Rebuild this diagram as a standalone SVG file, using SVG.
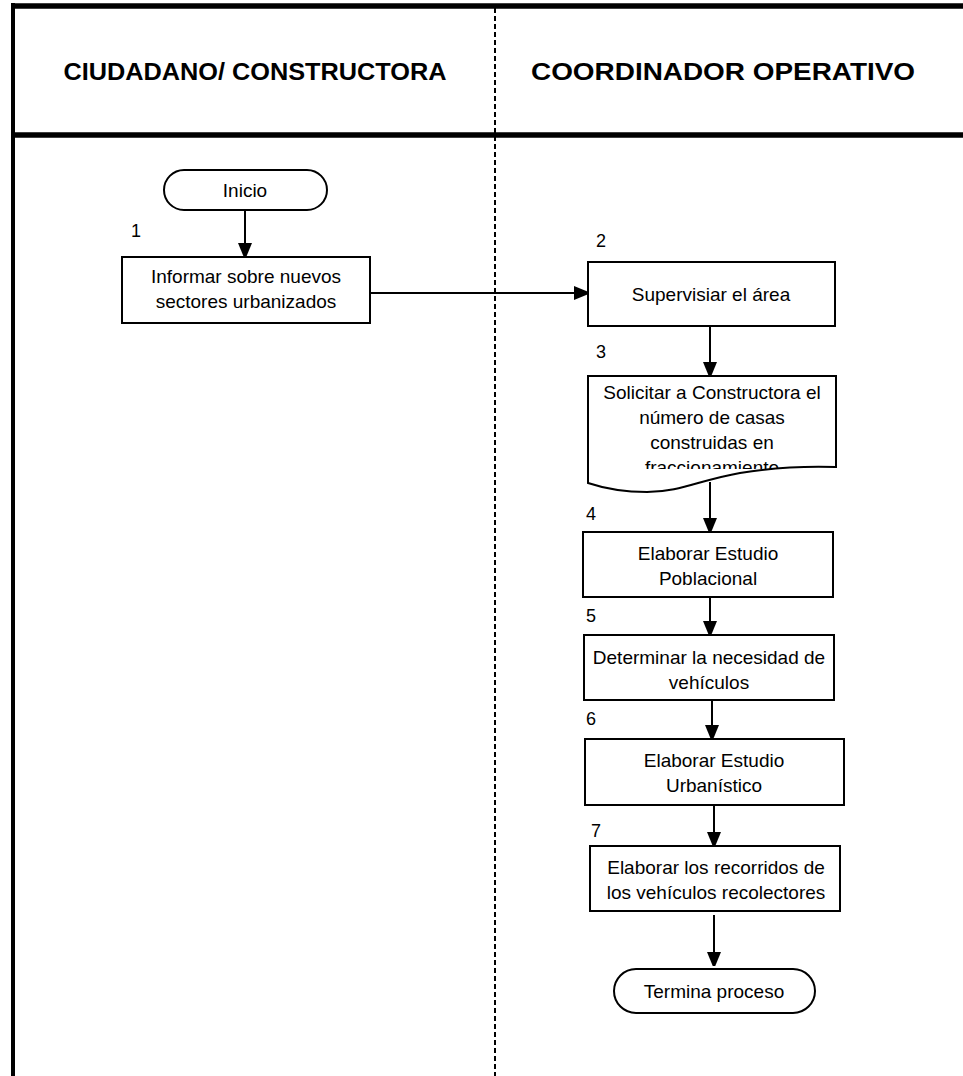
<svg xmlns="http://www.w3.org/2000/svg" width="963" height="1076" viewBox="0 0 963 1076">
  <style>
    .frame { stroke: #000; fill: none; }
    .box { fill: #fff; stroke: #000; stroke-width: 2; }
    .t { font-family: "Liberation Sans", Arial, sans-serif; font-size: 19px; fill: #000; text-anchor: middle; }
    .num { font-family: "Liberation Sans", Arial, sans-serif; font-size: 18px; fill: #000; }
    .hdr { font-family: "Liberation Sans", Arial, sans-serif; font-size: 24px; font-weight: bold; fill: #000; text-anchor: middle; }
    .conn { stroke: #000; stroke-width: 2; fill: none; marker-end: url(#arrow); }
  </style>
  <defs>
    <marker id="arrow" viewBox="0 0 14 17" refX="14" refY="7" markerWidth="14" markerHeight="17" markerUnits="userSpaceOnUse" orient="auto">
      <path d="M0,0 L17,7 L0,14 Z" fill="#000"/>
    </marker>
    <clipPath id="docClip">
      <rect x="588" y="376" width="248" height="93"/>
    </clipPath>
  </defs>
  <rect width="963" height="1076" fill="#fff"/>

  <!-- swimlane frame -->
  <g id="frame">
    <line class="frame" x1="13" y1="3" x2="13" y2="1076" stroke-width="4"/>
    <line class="frame" x1="11" y1="6" x2="963" y2="6" stroke-width="5.5"/>
    <line class="frame" x1="11" y1="135" x2="963" y2="135" stroke-width="5.5"/>
    <line class="frame" x1="495" y1="8" x2="495" y2="1076" stroke-width="2" stroke-dasharray="5,3"/>
    <text class="hdr" x="255" y="80" textLength="383" lengthAdjust="spacingAndGlyphs">CIUDADANO/ CONSTRUCTORA</text>
    <text class="hdr" x="723" y="80" textLength="384" lengthAdjust="spacingAndGlyphs">COORDINADOR OPERATIVO</text>
  </g>

  <!-- connectors -->
  <g id="connectors">
    <line class="conn" x1="245" y1="210" x2="245" y2="257"/>
    <line class="conn" x1="370" y1="293" x2="588" y2="293"/>
    <line class="conn" x1="710" y1="326" x2="710" y2="376"/>
    <line class="conn" x1="710" y1="482" x2="710" y2="532"/>
    <line class="conn" x1="710" y1="597" x2="710" y2="635"/>
    <line class="conn" x1="712" y1="700" x2="712" y2="739"/>
    <line class="conn" x1="714" y1="805" x2="714" y2="846"/>
    <line class="conn" x1="714" y1="915" x2="714" y2="966"/>
  </g>

  <g id="inicio">
    <rect class="box" x="164" y="170" width="163" height="40" rx="20" ry="20"/>
    <text class="t" x="245" y="197">Inicio</text>
  </g>

  <g id="step1">
    <text class="num" x="131" y="237">1</text>
    <rect class="box" x="122" y="257" width="248" height="66"/>
    <text class="t" x="246" y="283">Informar sobre nuevos</text>
    <text class="t" x="246" y="308">sectores urbanizados</text>
  </g>

  <g id="step2">
    <text class="num" x="596" y="247">2</text>
    <rect class="box" x="588" y="262" width="247" height="64"/>
    <text class="t" x="711" y="301">Supervisiar el área</text>
  </g>

  <g id="step3">
    <text class="num" x="596" y="358">3</text>
    <path class="box" d="M588,376 H836 V467 C805,466 770,468 740,473 C700,480 680,492 647,492 C620,492 600,487 588,483 Z"/>
    <g clip-path="url(#docClip)">
      <text class="t" x="712" y="399">Solicitar a Constructora el</text>
      <text class="t" x="712" y="424">número de casas</text>
      <text class="t" x="712" y="449">construidas en</text>
      <text class="t" x="712" y="474">fraccionamiento</text>
    </g>
  </g>

  <g id="step4">
    <text class="num" x="586" y="520">4</text>
    <rect class="box" x="583" y="532" width="250" height="65"/>
    <text class="t" x="708" y="560">Elaborar Estudio</text>
    <text class="t" x="708" y="585">Poblacional</text>
  </g>

  <g id="step5">
    <text class="num" x="586" y="622">5</text>
    <rect class="box" x="584" y="635" width="250" height="65"/>
    <text class="t" x="709" y="664">Determinar la necesidad de</text>
    <text class="t" x="709" y="689">vehículos</text>
  </g>

  <g id="step6">
    <text class="num" x="586" y="725">6</text>
    <rect class="box" x="585" y="739" width="259" height="66"/>
    <text class="t" x="714" y="767">Elaborar Estudio</text>
    <text class="t" x="714" y="792">Urbanístico</text>
  </g>

  <g id="step7">
    <text class="num" x="591" y="837">7</text>
    <rect class="box" x="590" y="846" width="250" height="65"/>
    <text class="t" x="716" y="874">Elaborar los recorridos de</text>
    <text class="t" x="716" y="899">los vehículos recolectores</text>
  </g>

  <g id="fin">
    <rect class="box" x="614" y="969" width="201" height="44" rx="22" ry="22"/>
    <text class="t" x="714" y="998">Termina proceso</text>
  </g>
</svg>
